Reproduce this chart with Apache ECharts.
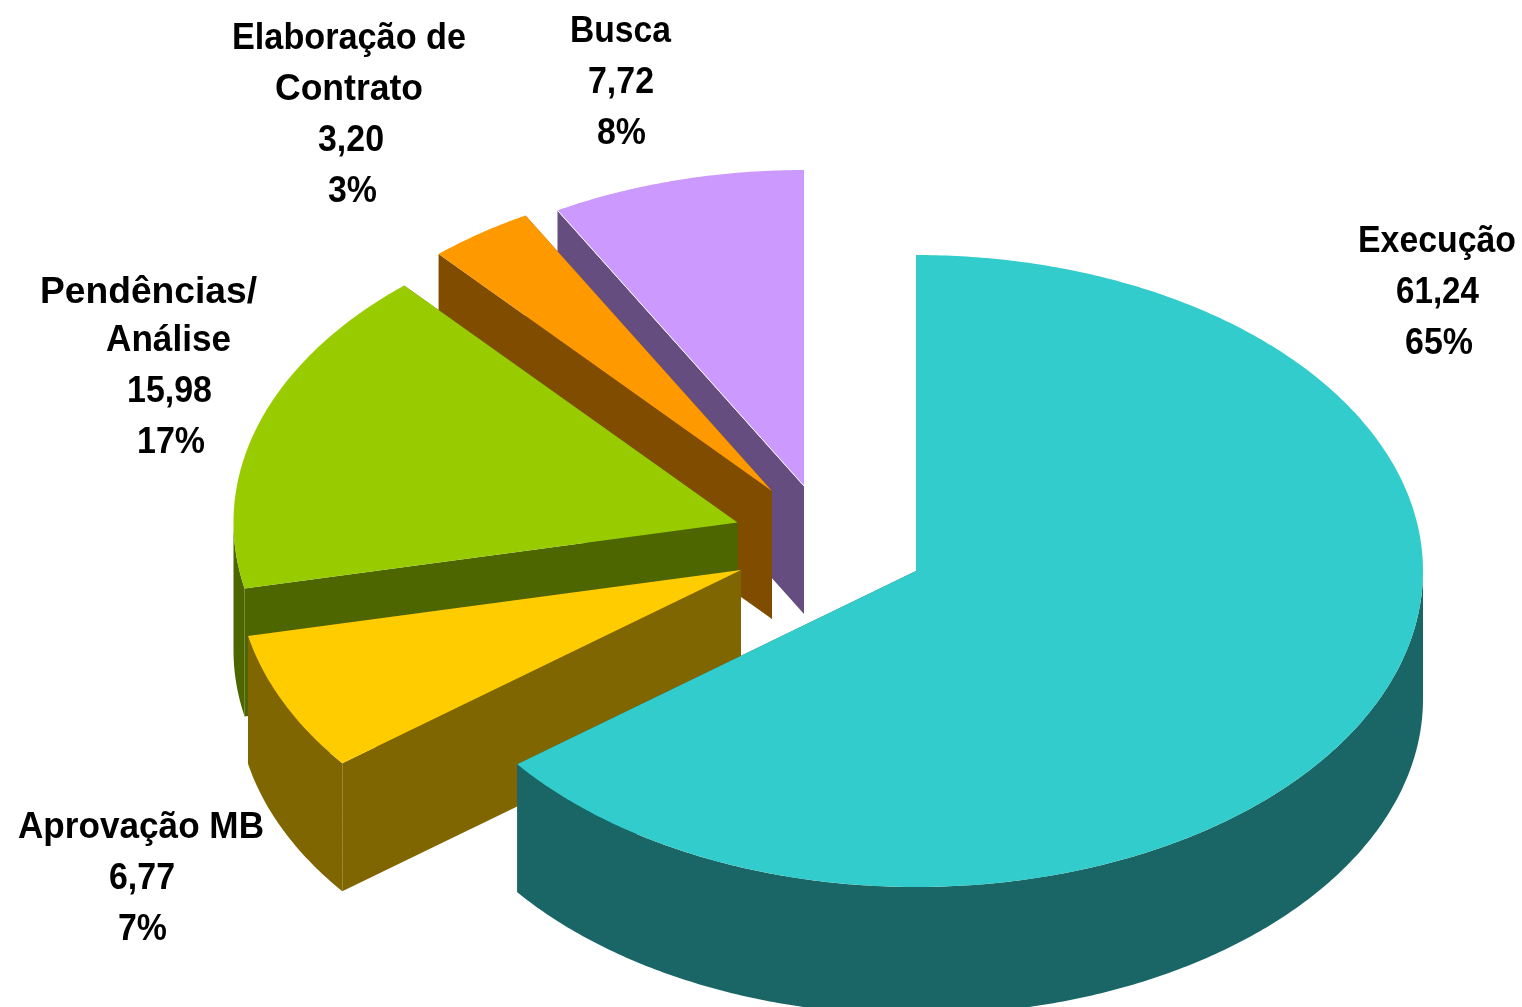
<!DOCTYPE html>
<html>
<head>
<meta charset="utf-8">
<title>Pizza 3D</title>
<script src="https://cdn.jsdelivr.net/npm/echarts@6/dist/echarts.min.js"></script>
<style>
html, body { margin: 0; padding: 0; background: #fff; overflow: hidden; }
#chart { width: 1522px; height: 1007px; }
</style>
</head>
<body>
<div id="chart"></div>
<script>
// dados
var categories = ['Execução', 'Aprovação MB', 'Pendências/\nAnálise', 'Elaboração de\nContrato', 'Busca'];
var values = [61.24, 6.77, 15.98, 3.20, 7.72];

// cores do topo e da lateral
var topColors = ['#33CCCC', '#FFCC00', '#99CC00', '#FF9900', '#CC99FF'];
var sideColors = ['#1A6666', '#806600', '#4D6600', '#804D00', '#664D80'];

// layout: centro da pizza, raios da elipse, altura e deslocamento de cada fatia
var centerX = 829, centerY = 545;
var radiusRight = 507, radiusLeft = 504, radiusY = 316, depth = 128;
var offsetX = [87, -88, -91.5, -57, -25];
var offsetY = [26, 25, -22.5, -54, -59];

// posicao e largura de cada linha do rotulo
var labelLineX = [[1437, 1437.5, 1439], [141, 142, 142.5], [148.5, 168.5, 169.5, 171], [349, 349, 351, 352.5], [620.5, 621, 621.5]];
var labelLineY = [[242, 293, 344], [828, 879, 930], [293, 341, 392, 443], [39, 90, 141, 192], [32, 83, 134]];
var labelLineWidth = [[158, 83, 68], [246, 66, 49], [217, 125, 85, 68], [234, 148, 66, 49], [101, 66, 49]];
var labelFont = 'bold 36px "Liberation Sans", Arial, sans-serif';

var total = 0;
var startAngles = [];
for (var n = 0; n < values.length; n++) {
    startAngles.push(total);
    total += values[n];
}
for (n = 0; n < values.length; n++) {
    startAngles[n] = startAngles[n] / total * Math.PI * 2;
}

var measure = document.createElement('canvas').getContext('2d');
measure.font = labelFont;

function ellipsePoint(ax, ay, angle) {
    var sin = Math.sin(angle);
    return [ax + (sin < 0 ? radiusLeft : radiusRight) * sin, ay - radiusY * Math.cos(angle)];
}

function arcPoints(ax, ay, from, to) {
    var pts = [];
    var steps = Math.max(2, Math.ceil((to - from) / 0.01));
    for (var s = 0; s <= steps; s++) {
        pts.push(ellipsePoint(ax, ay, from + (to - from) * s / steps));
    }
    return pts;
}

function rayWall(ax, ay, angle, fill, z) {
    var p = ellipsePoint(ax, ay, angle);
    return {
        type: 'polygon',
        shape: { points: [[ax, ay], p, [p[0], p[1] + depth], [ax, ay + depth]] },
        style: { fill: fill },
        z2: z
    };
}

function renderSlice(params, api) {
    var i = api.value(0);
    var value = api.value(1);
    var from = startAngles[i];
    var to = from + value / total * Math.PI * 2;
    var ax = centerX + offsetX[i];
    var ay = centerY + offsetY[i];
    var base = params.dataIndex * 10;
    var children = [];

    children.push(rayWall(ax, ay, from, sideColors[i], base));
    children.push(rayWall(ax, ay, to, sideColors[i], base));

    // lateral externa, so a parte voltada para frente
    var rimFrom = Math.max(from, Math.PI / 2);
    var rimTo = Math.min(to, Math.PI * 1.5);
    if (rimTo > rimFrom) {
        var rim = arcPoints(ax, ay, rimFrom, rimTo);
        var back = [];
        for (var r = rim.length - 1; r >= 0; r--) {
            back.push([rim[r][0], rim[r][1] + depth]);
        }
        children.push({
            type: 'polygon',
            shape: { points: rim.concat(back) },
            style: { fill: sideColors[i] },
            z2: base + 1
        });
    }

    // topo da fatia
    children.push({
        type: 'polygon',
        shape: { points: [[ax, ay]].concat(arcPoints(ax, ay, from, to)) },
        style: { fill: topColors[i] },
        z2: base + 2
    });

    // fio branco entre o topo e a lateral da Busca
    if (i == values.length - 1) {
        var edge = ellipsePoint(ax, ay, from);
        children.push({
            type: 'line',
            shape: { x1: ax, y1: ay, x2: edge[0], y2: edge[1] },
            style: { stroke: '#fff', lineWidth: 1 },
            z2: base + 3
        });
    }

    // rotulo: nome, valor e percentual
    var lines = categories[i].split('\n');
    lines.push(values[i].toFixed(2).replace('.', ','));
    lines.push(Math.round(values[i] / total * 100) + '%');
    for (var l = 0; l < lines.length; l++) {
        children.push({
            type: 'text',
            x: labelLineX[i][l],
            y: labelLineY[i][l],
            scaleX: labelLineWidth[i][l] / measure.measureText(lines[l]).width,
            style: {
                text: lines[l],
                fill: '#000',
                font: labelFont,
                align: 'center',
                verticalAlign: 'middle'
            },
            z2: 100
        });
    }

    return { type: 'group', children: children };
}

// desenha de tras para frente
var sliceData = [];
for (var d = values.length - 1; d >= 0; d--) {
    sliceData.push([d, values[d]]);
}

var myChart = echarts.init(document.getElementById('chart'), null, { renderer: 'canvas' });
option = {
    animation: false,
    backgroundColor: '#fff',
    series: [
        {
            type: 'custom',
            coordinateSystem: 'none',
            renderItem: renderSlice,
            data: sliceData
        }
    ]
};
myChart.setOption(option);
</script>
</body>
</html>
